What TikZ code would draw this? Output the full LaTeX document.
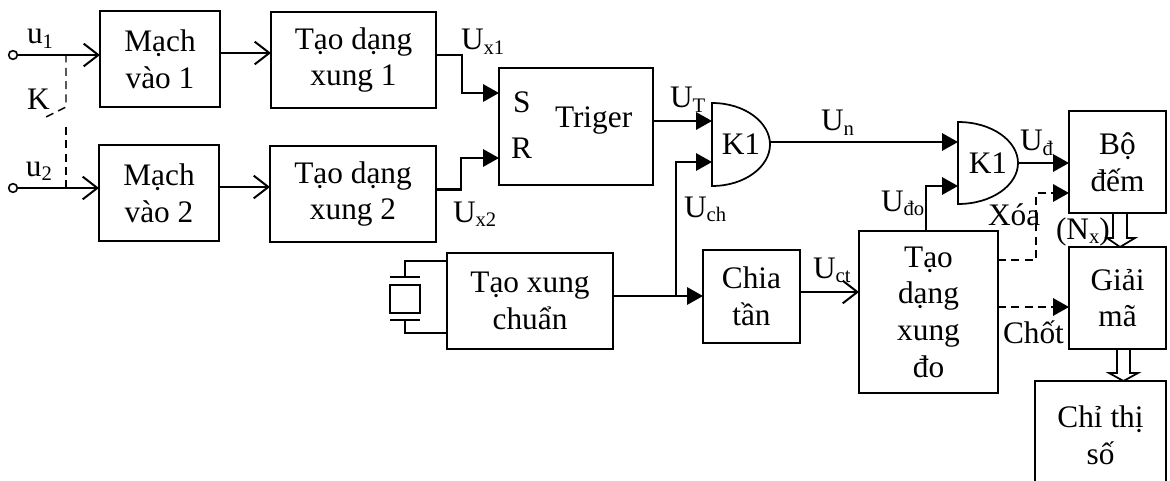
\documentclass[tikz,border=0pt]{standalone}
\usepackage{fontspec}
\setmainfont{Liberation Serif}
\usetikzlibrary{arrows.meta}
\newcommand{\sbs}[1]{\raisebox{-0.14em}{\fontsize{15.5}{15.5}\selectfont #1}}
\newcommand{\bx}[6]{%
  \pgfmathsetmacro{\wdd}{(#4-#2)*0.75}\pgfmathsetmacro{\htt}{(#5-#3)*0.75}%
  \node[blockbox,minimum width=\wdd pt,minimum height=\htt pt] (#1) at ({(#2+#4)/2},{(#3+#5)/2}) {#6};}
\tikzset{
  x=0.75pt,y=-0.75pt,
  every node/.style={font=\fontsize{23.5}{27.5}\selectfont,text=black,inner sep=0pt,outer sep=0pt},
  blockbox/.style={draw=black,line width=1.3pt,align=center},
  lbl/.style={anchor=base west},
  gatebox/.style={line width=1.3pt},
  openwire/.style={line width=1.7pt,-{Straight Barb[length=11pt,width=17pt,line width=1.5pt]}},
  solidwire/.style={line width=1.7pt,-{Triangle[length=12pt,width=13pt]}},
  ctrlwire/.style={line width=1.7pt,dash pattern=on 6pt off 4pt,-{Triangle[length=12pt,width=13pt,line cap=butt]}},
  thinwire/.style={line width=1.3pt},
  kdash/.style={line width=1.1pt,dash pattern=on 6pt off 4pt},
  hollow/.style={line width=1.3pt,line join=miter},
  term/.style={circle,draw=black,line width=1.2pt,minimum size=6.5pt,fill=white}
}
\begin{document}
\begin{tikzpicture}
\clip (0,0) rectangle (1170,481);
\fill[white] (0,0) rectangle (1170,481);
% blocks
\bx{m1}{100}{11}{220}{107}{Mạch\\vào 1}
\bx{t1}{271}{12}{436}{108}{Tạo dạng\\xung 1}
\bx{m2}{99}{145}{219}{241}{Mạch\\vào 2}
\bx{t2}{270}{146}{436}{242}{Tạo dạng\\xung 2}
\bx{tr}{499}{68}{653}{185}{}
\bx{xc}{447}{253}{613}{349}{Tạo xung\\chuẩn}
\bx{ct}{703}{250}{800}{343}{Chia\\tần}
\bx{xd}{859}{231}{998}{393}{Tạo\\dạng\\xung\\đo}
\bx{bd}{1069}{111}{1166}{213}{Bộ\\đếm}
\bx{gm}{1069}{247}{1166}{349}{Giải\\mã}
\bx{cs}{1035}{381}{1166}{490}{Chỉ thị\\số}
% gates
\node[minimum width=43.5pt,minimum height=62.25pt] (g1) at (741,144.5) {K1};
\draw[gatebox] (g1.north west) .. controls +(33,0) and +(0,-22) .. (g1.east) .. controls +(0,22) and +(33,0) .. (g1.south west) -- cycle;
\node[minimum width=45pt,minimum height=61.5pt] (g2) at (988,163) {K1};
\draw[gatebox] (g2.north west) .. controls +(34,0) and +(0,-22) .. (g2.east) .. controls +(0,22) and +(34,0) .. (g2.south west) -- cycle;
% terminals
\node[term] (in1) at (13,55) {};
\node[term] (in2) at (13,188) {};
% ports
\coordinate (j1) at (66,54.5);
\coordinate (j2) at (66,188);
\coordinate (k1) at (66,107);
\coordinate (k2) at (46,117);
\coordinate (k3) at (66,127);
\coordinate (sin) at (499,93);
\coordinate (rin) at (499,158);
\coordinate (a1) at (462,55);
\coordinate (a2) at (461,189.5);
\coordinate (gu) at (712,121);
\coordinate (gv) at (712,162);
\coordinate (ju) at (676,296);
\coordinate (gn) at (958,142);
\coordinate (gd) at (958,186);
\coordinate (xa) at (1036,260);
\coordinate (xb) at (1069,193);
\coordinate (ca) at (998,307);
% input wires
\draw[openwire] (in1) -- (m1.west |- in1);
\draw[openwire] (in2) -- (m2.west |- in2);
\draw[kdash] (j1) -- (k1) -- (k2);
\draw[kdash] (k3) -- (j2);
\draw[openwire] (m1.east |- 0,53) -- (t1.west |- 0,53);
\draw[openwire] (m2.east |- 0,187) -- (t2.west |- 0,187);
\draw[solidwire] (t1.east |- a1) -- (a1) -- (a1 |- sin) -- (sin);
\draw[solidwire] (t2.east |- a2) -- (a2) -- (a2 |- rin) -- (rin);
\draw[solidwire] (tr.east |- gu) -- (gu);
\draw[solidwire] (ju) -- (ju |- gv) -- (gv);
\draw[solidwire] (xc.east |- ju) -- (ct.west |- ju);
\draw[openwire] (ct.east |- 0,292) -- (xd.west |- 0,292);
\draw[solidwire] (g1.east |- gn) -- (gn);
\draw[solidwire] (xd.north -| 926,0) -- (926,0 |- gd) -- (gd);
\draw[solidwire] (g2.east) -- (bd.west |- g2.east);
\draw[ctrlwire] (xd.east |- xa) -- (xa) -- (xa |- xb) -- (xb);
\draw[ctrlwire] (ca) -- (gm.west |- ca);
% crystal
\node[draw=black,line width=1.3pt,minimum width=22.5pt,minimum height=21pt] (q) at (405,299) {};
\coordinate (pt) at (405,277);
\coordinate (pb) at (405,320);
\draw[thinwire] (390,277) -- (420,277);
\draw[thinwire] (390,320) -- (420,320);
\draw[thinwire] (pt) -- (pt |- 0,261) -- (xc.west |- 0,261);
\draw[thinwire] (pb) -- (pb |- 0,333) -- (xc.west |- 0,333);
% bus arrows
\coordinate (d1) at (1120,213);
\coordinate (d2) at (1120,247);
\coordinate (e1) at (1123.5,349);
\coordinate (e2) at (1123.5,381);
\draw[hollow] (d1) ++(-7,0) -- ++(0,25) -- ++(-6,0) -- (d2) -- ++(15,-9) -- ++(-8,0) -- ++(0,-25);
\draw[hollow] (e1) ++(-6.5,0) -- ++(0,24) -- ++(-8,0) -- (e2) -- ++(14.5,-8) -- ++(-8,0) -- ++(0,-24);
% labels
\node[lbl] (lu1) at (27,44) {u\sbs{1}};
\node[lbl] (lu2) at (26,176) {u\sbs{2}};
\node[lbl] (lk) at (27,110) {K};
\node[lbl] (lx1) at (461,50) {U\sbs{x1}};
\node[lbl] (lx2) at (453,222) {U\sbs{x2}};
\node[lbl] (ls) at (513,113) {S};
\node[lbl] (lr) at (511,159) {R};
\node[lbl] (ltr) at (555,128) {Triger};
\node[lbl] (lut) at (670,108) {U\sbs{T}};
\node[lbl] (luch) at (684,217) {U\sbs{ch}};
\node[lbl] (lun) at (821,131) {U\sbs{n}};
\node[lbl] (luct) at (813,278) {U\sbs{ct}};
\node[lbl] (lud) at (1020,151) {U\sbs{đ}};
\node[lbl] (ludo) at (881,211) {U\sbs{đo}};
\node[lbl] (lxoa) at (988,225) {Xóa};
\node[lbl] (lnx) at (1056,239) {(N\sbs{x})};
\node[lbl] (lchot) at (1003,343) {Chốt};
\end{tikzpicture}
\end{document}
